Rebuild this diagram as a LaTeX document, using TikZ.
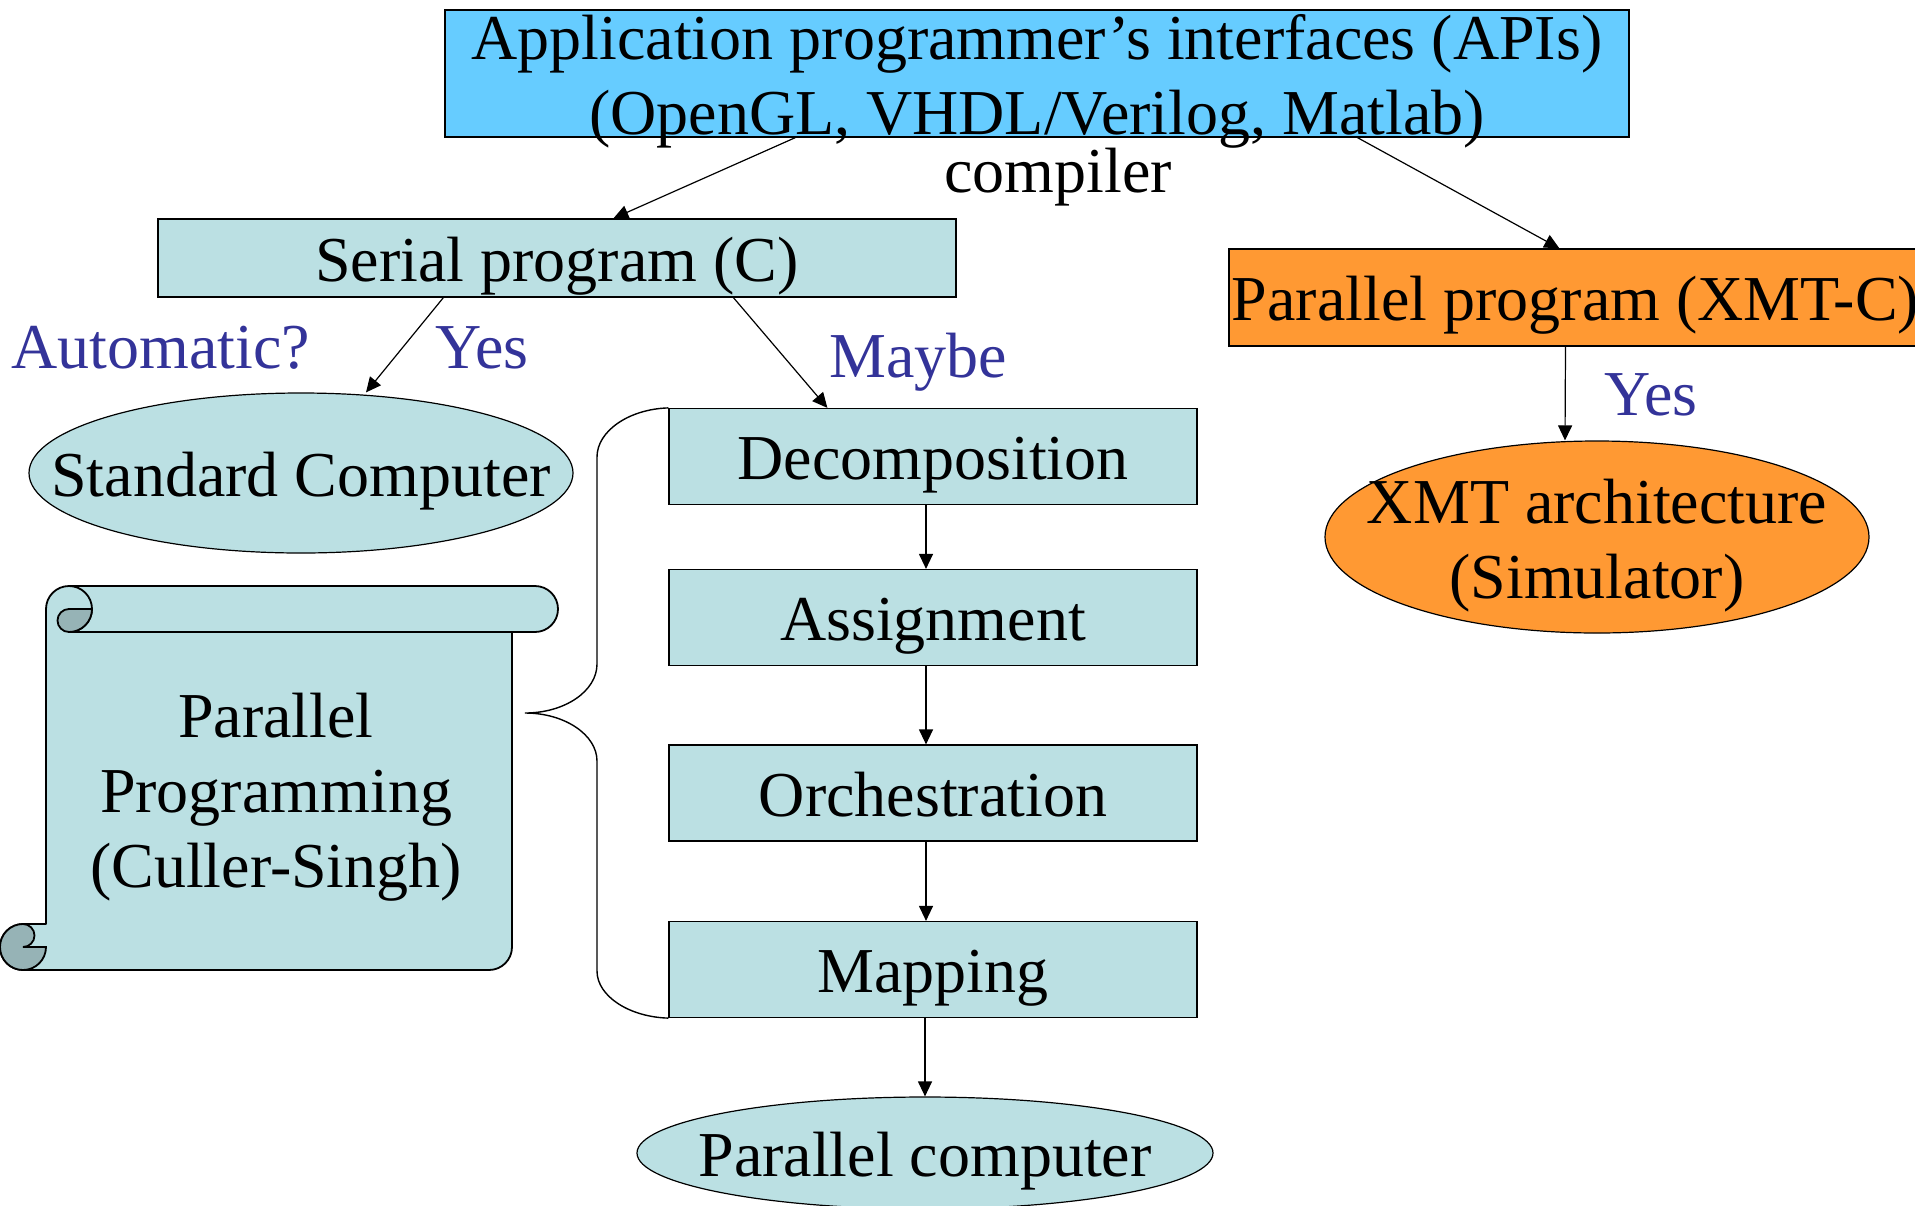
\documentclass[tikz,border=0pt]{standalone}
\usepackage{fontspec}
\setmainfont{Liberation Serif}
\usetikzlibrary{arrows.meta,shapes.geometric}

\definecolor{apiblue}{HTML}{66CCFF}
\definecolor{pptcyan}{HTML}{BBE0E3}
\definecolor{curlshade}{HTML}{96B3B6}
\definecolor{xmtorange}{HTML}{FF9933}
\definecolor{answerblue}{HTML}{333399}

\tikzset{
  big/.style={font=\fontsize{32}{37.5}\selectfont},
  stage/.style={big, draw, line width=0.6pt, fill=pptcyan, inner sep=0pt, text height=27pt, text depth=4pt},
  oval/.style={ellipse, draw, line width=0.6pt, fill=pptcyan, inner sep=0pt},
  ovaltext/.style={big, inner sep=0pt, text height=27pt, text depth=4pt},
  answer/.style={big, text=answerblue, anchor=base, inner sep=0pt},
  flow/.style={-{Triangle[length=7.5pt,width=7pt]}, line width=0.6pt},
}

\begin{document}
\begin{tikzpicture}[x=0.5pt, y=-0.5pt]
    \useasboundingbox (0,0) rectangle (1915,1205);
    \clip (0,0) rectangle (1915,1205);

    % Scroll
    \filldraw[fill=pptcyan, line width=0.9pt, line join=round]
        (46,609) arc[start angle=180, end angle=270, radius=23]
        -- (535,586) arc[start angle=270, end angle=450, radius=23]
        -- (512,632) -- (512,947) arc[start angle=0, end angle=90, radius=23]
        -- (23,970) arc[start angle=90, end angle=270, radius=23]
        -- (46,924) -- cycle;
    \draw[line width=0.9pt] (69,632) -- (512,632);
    \draw[line width=0.9pt] (69,586) arc[start angle=270, end angle=450, radius=23];
    \filldraw[fill=curlshade, line width=0.9pt] (92,609) -- (69,609)
        arc[start angle=270, end angle=90, radius=11.5]
        arc[start angle=90, end angle=0, radius=23] -- cycle;
    \filldraw[fill=curlshade, line width=0.9pt] (23,924)
        arc[start angle=270, end angle=0, radius=23] -- (23,947)
        arc[start angle=90, end angle=-90, radius=11.5] -- cycle;
    \node[big, align=center, anchor=base] (scrolltxt) at (276,887) {Parallel\\Programming\\(Culler-Singh)};

    % Top
    \node[stage, fill=apiblue, minimum width=592pt, minimum height=63.5pt, align=center, text height=61pt, text depth=0.5pt]
        (api) at (1037,73.5) {Application programmer’s interfaces (APIs)\\(OpenGL, VHDL/Verilog, Matlab)};
    \node[big, anchor=base] (compiler) at (1058,192) {compiler};

    \node[stage, minimum width=399pt, minimum height=39pt] (serial) at (557,258) {Serial program (C)};
    \node[stage, fill=xmtorange, minimum width=346.5pt, minimum height=48.5pt] (par) at (1575.5,297.5) {Parallel program (XMT-C)};

    % Targets
    \node[oval, minimum width=272pt, minimum height=80pt,
        label={[ovaltext]center:Standard Computer}] (std) at (301,473) {};
    \node[oval, fill=xmtorange, minimum width=272pt, minimum height=96pt,
        label={[ovaltext, align=center, text height=61.5pt, text depth=0.5pt]center:{XMT architecture\\(Simulator)}}] (xmt) at (1597,537) {};

    % Culler-Singh steps
    \node[stage, minimum width=264pt, minimum height=48pt] (decomp) at (933,456.5) {Decomposition};
    \node[stage, minimum width=264pt, minimum height=48pt] (assign) at (933,617.5) {Assignment};
    \node[stage, minimum width=264pt, minimum height=48pt] (orch) at (933,793) {Orchestration};
    \node[stage, minimum width=264pt, minimum height=48pt] (mapping) at (933,969.5) {Mapping};
    \node[oval, minimum width=288pt, minimum height=56pt,
        label={[ovaltext]center:Parallel computer}] (parcomp) at (925,1153) {};

    % Brace
    \draw[line width=0.7pt] (decomp.north west) .. controls (629,409) and (597,431) .. (597,457)
        -- (597,664) .. controls (597,691) and (565,713) .. (525,713)
        .. controls (565,713) and (597,735) .. (597,761)
        -- (597,971) .. controls (597,996) and (629,1017) .. (mapping.south west);

    % Arrows
    \draw[flow] ([xshift=175.5pt]api.south west) -- ([xshift=228pt]serial.north west);
    \draw[flow] ([xshift=456.5pt]api.south west) -- ([xshift=165.5pt]par.north west);
    \draw[flow] ([xshift=143pt]serial.south west) -- ([xshift=32.5pt]std.north);
    \draw[flow] ([xshift=288pt]serial.south west) -- ([xshift=79.5pt]decomp.north west);
    \draw[flow] ([xshift=-3.5pt]decomp.south) -- ([xshift=-3.5pt]assign.north);
    \draw[flow] ([xshift=-3.5pt]assign.south) -- ([xshift=-3.5pt]orch.north);
    \draw[flow] ([xshift=-3.5pt]orch.south) -- ([xshift=-3.5pt]mapping.north);
    \draw[flow] (mapping.south -| parcomp.north) -- (parcomp.north);
    \draw[flow] ([xshift=-5pt]par.south) -- ([xshift=-16pt]xmt.north);

    % Answers
    \node[answer] (automatic) at (161,368) {Automatic?};
    \node[answer] (yesstd) at (482,368) {Yes};
    \node[answer] (maybe) at (918,377) {Maybe};
    \node[answer] (yesxmt) at (1651,415) {Yes};
\end{tikzpicture}
\end{document}
